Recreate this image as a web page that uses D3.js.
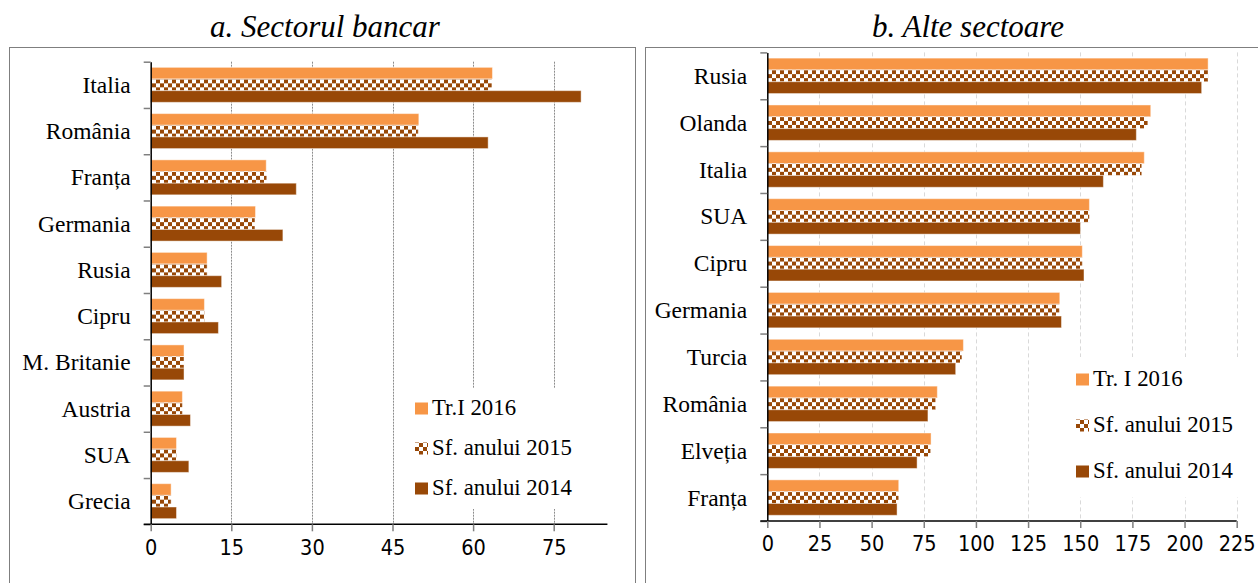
<!doctype html>
<html lang="ro">
<head>
<meta charset="utf-8">
<title>Sectorul bancar / Alte sectoare</title>
<style>
  * { margin: 0; padding: 0; border: 0; }
  body { background: #fff; width: 1258px; height: 583px; overflow: hidden; }
  svg { display: block; }
  .title { font-family: "Liberation Serif", serif; font-style: italic; font-size: 31px; fill: #000; }
  .cat text { font-family: "Liberation Serif", serif; font-size: 23.5px; fill: #000; }
  .xax text { font-family: "Liberation Sans Narrow", "DejaVu Sans Condensed", sans-serif; font-size: 21.5px; fill: #000; }
  .legend text { font-family: "Liberation Serif", serif; font-size: 22.8px; fill: #000; }
</style>
</head>
<body>
<svg id="chart" width="1258" height="583"></svg>

<script src="https://d3js.org/d3.v7.min.js"></script>
<script>

  // a. Sectorul bancar
  var leftCats = ["Italia", "România", "Franța", "Germania", "Rusia", "Cipru", "M. Britanie", "Austria", "SUA", "Grecia"];
  var left2016 = [63.6, 49.9, 21.5, 19.5, 10.5, 10.0, 6.2, 5.9, 4.8, 3.8];
  var left2015 = [63.5, 49.8, 21.6, 19.4, 10.5, 10.0, 6.2, 5.9, 4.8, 3.8];
  var left2014 = [80.1, 62.8, 27.1, 24.6, 13.2, 12.6, 6.2, 7.4, 7.1, 4.8];
  var leftTicks = [0, 15, 30, 45, 60, 75];

  // b. Alte sectoare
  var rightCats = ["Rusia", "Olanda", "Italia", "SUA", "Cipru", "Germania", "Turcia", "România", "Elveția", "Franța"];
  var right2016 = [211.3, 183.8, 180.7, 154.4, 151.0, 140.2, 94.0, 81.5, 78.5, 63.0];
  var right2015 = [211.3, 182.4, 179.5, 154.4, 151.0, 140.0, 93.3, 80.7, 78.3, 63.0];
  var right2014 = [208.2, 176.9, 161.1, 150.1, 151.8, 141.0, 90.3, 77.0, 71.8, 62.2];
  var rightTicks = [0, 25, 50, 75, 100, 125, 150, 175, 200, 225];

  var seriesKeys = ["s2016", "s2015", "s2014"];
  var leftNames = ["Tr.I 2016", "Sf. anului 2015", "Sf. anului 2014"];
  var rightNames = ["Tr. I 2016", "Sf. anului 2015", "Sf. anului 2014"];

  var orange = "#f79646";
  var brown = "#984807";

  var svg = d3.select("#chart");

  // checkerboard pattern for Sf. anului 2015
  var defs = svg.append("defs");
  var pat = defs.append("pattern").attr("id", "checker")
    .attr("patternUnits", "userSpaceOnUse").attr("width", 8).attr("height", 8);
  pat.append("rect").attr("width", 8).attr("height", 8).attr("fill", "#fff");
  pat.append("rect").attr("width", 4).attr("height", 4).attr("fill", brown);
  pat.append("rect").attr("x", 4).attr("y", 4).attr("width", 4).attr("height", 4).attr("fill", brown);

  var fills = { s2016: orange, s2015: "url(#checker)", s2014: brown };

  // panel frames
  svg.append("rect").attr("x", 9.5).attr("y", 47.5).attr("width", 626).attr("height", 600)
    .attr("fill", "none").attr("stroke", "#7f7f7f");
  svg.append("rect").attr("x", 645.5).attr("y", 47.5).attr("width", 640).attr("height", 600)
    .attr("fill", "none").attr("stroke", "#7f7f7f");

  function drawPanel(opt) {
    var g = svg.append("g");

    var rows = opt.cats.map(function(c, i) {
      return { cat: c, s2016: opt.v2016[i], s2015: opt.v2015[i], s2014: opt.v2014[i] };
    });

    var x = d3.scaleLinear().domain([0, opt.xmax]).range([opt.x0, opt.x1]);
    var y = d3.scaleBand().domain(opt.cats).range([opt.top, opt.bottom])
      .paddingInner(0.244).paddingOuter(0.122);
    var ySub = d3.scaleBand().domain(seriesKeys).range([0, y.bandwidth()]);
    var yEdge = d3.scaleLinear().domain([0, opt.cats.length]).range([opt.top, opt.bottom]);

    // gridlines
    g.append("g").selectAll("line")
      .data(opt.ticks.filter(function(t) { return t > 0; }))
      .join("line")
      .attr("x1", function(d) { return Math.round(x(d)) + 0.5; })
      .attr("x2", function(d) { return Math.round(x(d)) + 0.5; })
      .attr("y1", opt.top).attr("y2", opt.bottom)
      .attr("stroke", opt.gridColor).attr("stroke-dasharray", opt.gridDash);

    // bars
    g.append("g").selectAll("g")
      .data(rows)
      .join("g")
      .attr("transform", function(d) { return "translate(0," + y(d.cat) + ")"; })
      .selectAll("rect")
      .data(function(d) { return seriesKeys.map(function(k) { return { key: k, value: d[k] }; }); })
      .join("rect")
      .attr("x", x(0))
      .attr("y", function(d) { return ySub(d.key); })
      .attr("width", function(d) { return x(d.value) - x(0); })
      .attr("height", ySub.bandwidth())
      .attr("fill", function(d) { return fills[d.key]; })
      .attr("stroke", "rgba(255,255,255,0.45)")
      .attr("stroke-width", 1);

    // category ticks at band edges
    var yTick = g.append("g").attr("transform", "translate(" + opt.x0 + ",0)")
      .call(d3.axisLeft(yEdge).tickValues(d3.range(opt.cats.length + 1)).tickFormat("").tickSize(7).tickSizeOuter(0));
    yTick.select(".domain").attr("stroke", "#000").attr("stroke-width", 1.5);
    yTick.selectAll(".tick line").attr("stroke", "#7f7f7f").attr("stroke-width", 1.5);

    // category labels
    var yLab = g.append("g").attr("class", "cat").attr("transform", "translate(" + opt.x0 + ",0)")
      .call(d3.axisLeft(y).tickSize(0).tickPadding(20));
    yLab.select(".domain").remove();
    yLab.selectAll("text").attr("dy", "0.34em");

    // x axis
    var xa = g.append("g").attr("class", "xax").attr("transform", "translate(0," + opt.bottom + ")")
      .call(d3.axisBottom(x).tickValues(opt.ticks).tickSize(7).tickSizeOuter(0).tickPadding(8));
    xa.select(".domain").attr("stroke", "#000").attr("stroke-width", 1.5)
      .attr("d", "M" + (opt.x0 - 7) + ",0H" + opt.x1);
    xa.selectAll(".tick line").attr("stroke", "#7f7f7f").attr("stroke-width", 1.5);

    // legend
    var lg = g.append("g").attr("class", "legend");
    lg.append("rect").attr("x", opt.legBox[0]).attr("y", opt.legBox[1])
      .attr("width", opt.legBox[2]).attr("height", opt.legBox[3]).attr("fill", "#fff");
    var item = lg.selectAll("g.item")
      .data(seriesKeys)
      .join("g").attr("class", "item")
      .attr("transform", function(d, i) { return "translate(" + opt.legX + "," + (opt.legY + i * opt.legStep) + ")"; });
    item.append("rect").attr("x", 0).attr("y", -12.5).attr("width", 13).attr("height", 12)
      .attr("fill", function(d) { return fills[d]; });
    item.append("text").attr("x", 17).attr("y", 0)
      .text(function(d, i) { return opt.names[i]; });

    // title
    svg.append("text").attr("class", "title").attr("x", opt.titleX).attr("y", 37)
      .attr("text-anchor", "middle").text(opt.title);
  }

  drawPanel({
    title: "a. Sectorul bancar", titleX: 325,
    cats: leftCats, v2016: left2016, v2015: left2015, v2014: left2014,
    ticks: leftTicks, xmax: 85,
    x0: 150.7, x1: 150.7 + 85 * 80.6 / 15, top: 61.7, bottom: 524.3,
    gridColor: "#8c8c8c", gridDash: "2,1",
    legBox: [400, 388, 200, 121], legX: 415, legY: 415, legStep: 40, names: leftNames
  });

  drawPanel({
    title: "b. Alte sectoare", titleX: 968,
    cats: rightCats, v2016: right2016, v2015: right2015, v2014: right2014,
    ticks: rightTicks, xmax: 225,
    x0: 767.3, x1: 1236.7, top: 52.4, bottom: 521,
    gridColor: "#d9d9d9", gridDash: "4,3",
    legBox: [1066, 357, 186, 140], legX: 1076, legY: 386, legStep: 46, names: rightNames
  });

</script>
</body>
</html>
